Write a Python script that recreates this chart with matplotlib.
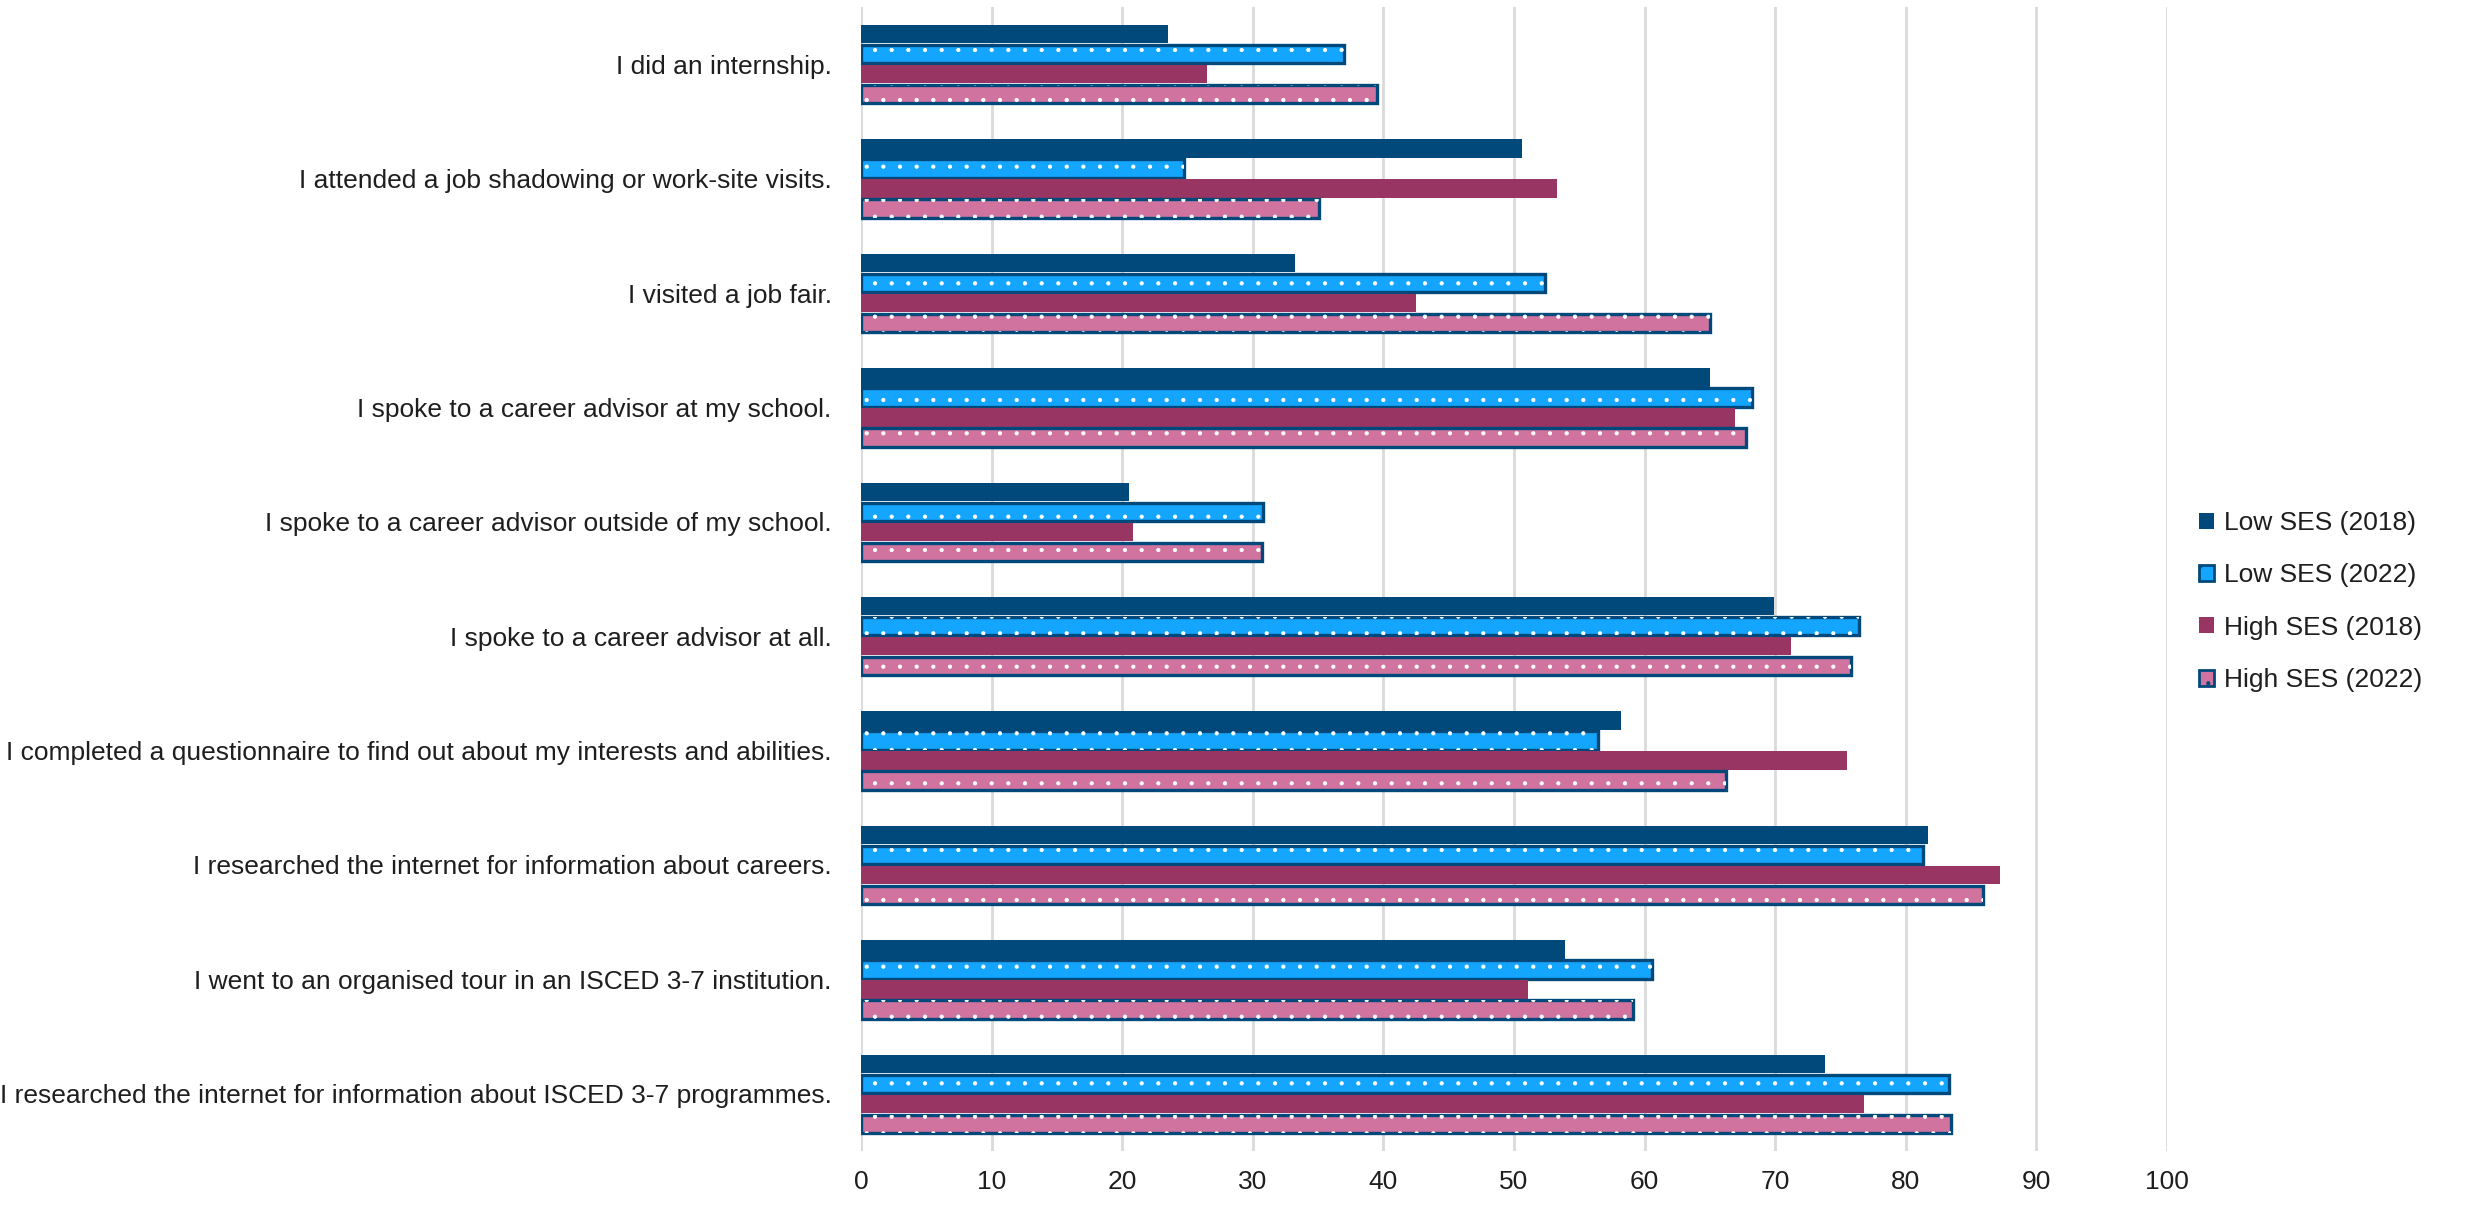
import numpy as np
import matplotlib
matplotlib.use("Agg")
import matplotlib.pyplot as plt
from matplotlib import font_manager
from matplotlib.patches import Patch

# survey items (top to bottom) and shares of students (%)
items = [
    "I did an internship.",
    "I attended a job shadowing or work-site visits.",
    "I visited a job fair.",
    "I spoke to a career advisor at my school.",
    "I spoke to a career advisor outside of my school.",
    "I spoke to a career advisor at all.",
    "I completed a questionnaire to find out about my interests and abilities.",
    "I researched the internet for information about careers.",
    "I went to an organised tour in an ISCED 3-7 institution.",
    "I researched the internet for information about ISCED 3-7 programmes.",
]
low_2018 = [23.5, 50.6, 33.2, 65.0, 20.5, 69.9, 58.2, 81.7, 53.9, 73.8]
low_2022 = [37.0, 24.7, 52.4, 68.2, 30.8, 76.4, 56.4, 81.3, 60.6, 83.3]
high_2018 = [26.5, 53.3, 42.5, 66.9, 20.8, 71.2, 75.5, 87.2, 51.1, 76.8]
high_2022 = [39.5, 35.1, 65.0, 67.8, 30.7, 75.8, 66.2, 85.9, 59.1, 83.5]
series_names = ["Low SES (2018)", "Low SES (2022)", "High SES (2018)", "High SES (2022)"]
x_ticks = [0, 10, 20, 30, 40, 50, 60, 70, 80, 90, 100]

# pick a condensed font if available
names = {f.name for f in font_manager.fontManager.ttflist}
if "Liberation Sans Narrow" in names:
    plt.rcParams["font.family"] = ["Liberation Sans Narrow", "DejaVu Sans"]
    fsize = 23
else:
    plt.rcParams["font.family"] = ["Liberation Sans", "DejaVu Sans"]
    fsize = 19
plt.rcParams["hatch.linewidth"] = 0.6

navy = "#00497A"
styles = [
    dict(color="#00497A", hatch=None),
    dict(color="#14A5FF", hatch="."),
    dict(color="#993562", hatch=None),
    dict(color="#D0749F", hatch="."),
]
series = [low_2018, low_2022, high_2018, high_2022]

fig = plt.figure(figsize=(24.76, 12.08), dpi=100)
ax = fig.add_axes([0.3477, 0.0472, 0.5275, 0.947])

y = np.arange(len(items))
pitch = 0.175
height = 0.16
for k, (vals, st, name) in enumerate(zip(series, styles, series_names)):
    pos = y + (k - 1.5) * pitch
    if st["hatch"]:
        ax.barh(pos, vals, height=height, color=st["color"],
                edgecolor=navy, linewidth=2.4, label=name, zorder=3)
        # white dots on top of the fill
        ax.barh(pos, vals, height=height, color="none", edgecolor="white",
                hatch=st["hatch"], linewidth=0, zorder=4)
    else:
        ax.barh(pos, vals, height=height, color=st["color"],
                linewidth=0, label=name, zorder=3)

ax.set_ylim(len(items) - 0.5, -0.5)
ax.set_xlim(0, 100)
ax.set_xticks(x_ticks)
ax.set_yticks(y)
ax.set_yticklabels(items)
ax.tick_params(axis="both", length=0, labelsize=fsize, colors="#1E1E1E")
ax.tick_params(axis="y", pad=21)
ax.tick_params(axis="x", pad=14)
ax.grid(axis="x", color="#DADADA", linewidth=2, zorder=0)
ax.set_axisbelow(True)
for s in ax.spines.values():
    s.set_visible(False)

# legend with square swatches
proxies = []
for st, name in zip(styles, series_names):
    if st["hatch"]:
        proxies.append(Patch(facecolor=st["color"], edgecolor=navy, linewidth=2,
                             hatch=".", label=name))
    else:
        proxies.append(Patch(facecolor=st["color"], edgecolor="none", label=name))
leg = fig.legend(handles=proxies, loc="center left", bbox_to_anchor=(0.884, 0.502),
                 frameon=False, fontsize=fsize, handlelength=0.55, handleheight=0.55,
                 handletextpad=0.4, labelspacing=1.07, borderaxespad=0)
for t in leg.get_texts():
    t.set_color("#1E1E1E")

fig.savefig("out.png", dpi=100)
